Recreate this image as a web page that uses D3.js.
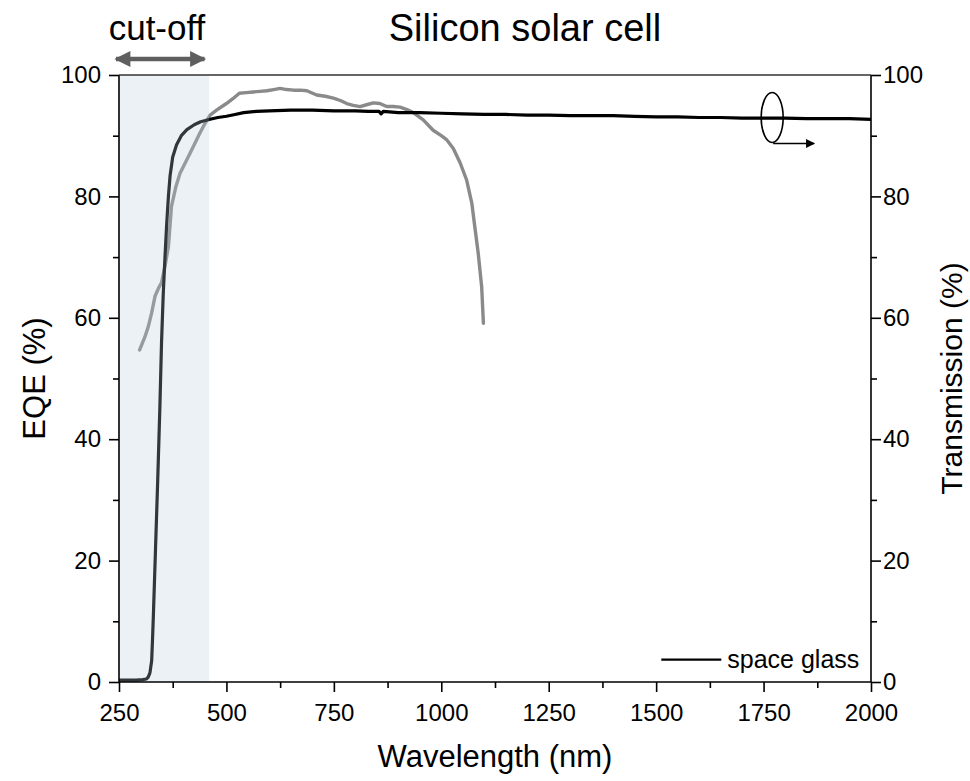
<!DOCTYPE html>
<html>
<head>
<meta charset="utf-8">
<script src="https://cdn.jsdelivr.net/npm/d3@7"></script>
<style>
  html, body { margin: 0; padding: 0; background: #fff; }
  svg { display: block; font-family: "Liberation Sans", Arial, Helvetica, sans-serif; }
</style>
</head>
<body>
<svg id="chart" width="970" height="781"></svg>
<script>
// Wavelength (nm) and EQE (%) of the silicon cell
const eqeWavelength = [298, 310, 318, 326, 334, 342, 349, 357, 365, 372, 382, 392, 411, 425, 438, 450, 462, 477, 500, 515, 530, 546, 562, 578, 594, 610, 625, 640, 656, 672, 687, 710, 730, 749, 765, 780, 795, 811, 826, 842, 857, 873, 888, 904, 920, 935, 958, 981, 1000, 1013, 1028, 1044, 1059, 1071, 1078, 1086, 1094, 1098];
const eqeValue      = [54.7, 56.8, 58.5, 60.8, 63.6, 64.9, 65.8, 68.5, 71.7, 78.3, 81.5, 83.8, 86.5, 88.5, 90.4, 92.0, 93.4, 94.2, 95.3, 96.1, 97.0, 97.1, 97.2, 97.3, 97.4, 97.6, 97.8, 97.6, 97.5, 97.5, 97.4, 96.7, 96.5, 96.2, 95.8, 95.3, 95.0, 94.8, 95.1, 95.4, 95.3, 94.8, 94.8, 94.7, 94.3, 93.8, 92.6, 90.9, 90.0, 89.3, 87.9, 85.5, 82.7, 78.9, 75.0, 70.6, 65.1, 59.1];

// Wavelength (nm) and transmission (%) of the space glass
const transWavelength = [250, 270, 290, 305, 314, 318, 322, 326, 328, 330, 335, 340, 345, 349, 353, 357, 361, 365, 369, 375, 384, 395, 408, 425, 440, 462, 480, 500, 520, 540, 570, 600, 650, 700, 750, 800, 830, 855, 860, 865, 900, 950, 1000, 1050, 1100, 1150, 1200, 1250, 1300, 1350, 1400, 1450, 1500, 1550, 1600, 1650, 1700, 1750, 1800, 1850, 1900, 1950, 2000];
const transValue      = [0.3, 0.3, 0.3, 0.4, 0.5, 0.8, 1.5, 3.5, 7.0, 11.0, 22.0, 33.0, 45.0, 56.0, 64.0, 70.0, 75.5, 80.0, 83.5, 86.5, 88.5, 90.0, 91.0, 91.8, 92.3, 92.7, 93.0, 93.2, 93.5, 93.8, 94.0, 94.1, 94.2, 94.2, 94.1, 94.1, 94.0, 94.0, 93.6, 94.0, 93.8, 93.8, 93.7, 93.6, 93.5, 93.5, 93.4, 93.4, 93.3, 93.3, 93.3, 93.2, 93.1, 93.1, 93.0, 93.0, 92.9, 92.9, 92.9, 92.8, 92.8, 92.8, 92.7];

// Axis ticks
const xMajorTicks = [250, 500, 750, 1000, 1250, 1500, 1750, 2000];
const xMinorTicks = [375, 625, 875, 1125, 1375, 1625, 1875];
const yMajorTicks = [0, 20, 40, 60, 80, 100];
const yMinorTicks = [10, 30, 50, 70, 90];

// Highlighted cut-off band (nm)
const cutoffBand = [250, 460];

const svg = d3.select("#chart");
const margin = { left: 119, right: 99, top: 75, bottom: 99 };
const W = 970, H = 781;

const x = d3.scaleLinear().domain([250, 2000]).range([margin.left, W - margin.right]);
const yL = d3.scaleLinear().domain([0, 100]).range([H - margin.bottom, margin.top]);
const yR = d3.scaleLinear().domain([0, 100]).range([H - margin.bottom, margin.top]);

const eqeData = eqeWavelength.map((w, i) => [w, eqeValue[i]]);
const transData = transWavelength.map((w, i) => [w, transValue[i]]);

// EQE curve (left axis)
svg.append("path")
  .datum(eqeData)
  .attr("fill", "none")
  .attr("stroke", "#8a8a8a")
  .attr("stroke-width", 3.4)
  .attr("stroke-linejoin", "round")
  .attr("stroke-linecap", "round")
  .attr("d", d3.line().x(d => x(d[0])).y(d => yL(d[1])));

// Transmission curve (right axis)
svg.append("path")
  .datum(transData)
  .attr("fill", "none")
  .attr("stroke", "#000")
  .attr("stroke-width", 3.2)
  .attr("stroke-linejoin", "round")
  .attr("d", d3.line().x(d => x(d[0])).y(d => yR(d[1])));

// Translucent cut-off band over the curves
svg.append("rect")
  .attr("x", x(cutoffBand[0]))
  .attr("y", yL(100))
  .attr("width", x(cutoffBand[1]) - x(cutoffBand[0]))
  .attr("height", yL(0) - yL(100))
  .attr("fill", "rgb(185,203,219)")
  .attr("fill-opacity", 0.27);

// Axes
const tickFont = 24;
const styleAxis = g => {
  g.selectAll(".domain").remove();
  g.selectAll("line").attr("stroke", "#000").attr("stroke-width", 1.6);
  g.selectAll("text").attr("font-size", tickFont).attr("fill", "#000")
    .attr("font-family", "Liberation Sans, Arial, sans-serif");
};

const gx = svg.append("g").attr("transform", `translate(0,${yL(0)})`);
gx.call(d3.axisBottom(x).tickValues(xMajorTicks).tickSize(10).tickPadding(12).tickFormat(d3.format("d")));
styleAxis(gx);
svg.append("g").attr("transform", `translate(0,${yL(0)})`)
  .call(d3.axisBottom(x).tickValues(xMinorTicks).tickSize(6).tickFormat(""))
  .call(styleAxis);

const gyl = svg.append("g").attr("transform", `translate(${x(250)},0)`);
gyl.call(d3.axisLeft(yL).tickValues(yMajorTicks).tickSize(10).tickPadding(8));
styleAxis(gyl);
svg.append("g").attr("transform", `translate(${x(250)},0)`)
  .call(d3.axisLeft(yL).tickValues(yMinorTicks).tickSize(6).tickFormat(""))
  .call(styleAxis);

const gyr = svg.append("g").attr("transform", `translate(${x(2000)},0)`);
gyr.call(d3.axisRight(yR).tickValues(yMajorTicks).tickSize(10).tickPadding(2));
styleAxis(gyr);
svg.append("g").attr("transform", `translate(${x(2000)},0)`)
  .call(d3.axisRight(yR).tickValues(yMinorTicks).tickSize(6).tickFormat(""))
  .call(styleAxis);

// Frame
const frame = svg.append("g").attr("stroke-width", 1.6).attr("fill", "none");
frame.append("line").attr("x1", x(250)).attr("x2", x(2000)).attr("y1", yL(0)).attr("y2", yL(0)).attr("stroke", "#000");
frame.append("line").attr("x1", x(250)).attr("x2", x(250)).attr("y1", yL(0)).attr("y2", yL(100)).attr("stroke", "#000");
frame.append("line").attr("x1", x(2000)).attr("x2", x(2000)).attr("y1", yL(0)).attr("y2", yL(100)).attr("stroke", "#000");
frame.append("line").attr("x1", x(250)).attr("x2", x(2000)).attr("y1", yL(100)).attr("y2", yL(100)).attr("stroke", "#333");

// Axis titles
const titleFont = 31;
svg.append("text")
  .attr("x", (x(250) + x(2000)) / 2).attr("y", 767)
  .attr("text-anchor", "middle").attr("font-size", titleFont)
  .text("Wavelength (nm)");
svg.append("text")
  .attr("transform", `translate(45,${(yL(0) + yL(100)) / 2}) rotate(-90)`)
  .attr("text-anchor", "middle").attr("font-size", titleFont)
  .text("EQE (%)");
svg.append("text")
  .attr("transform", `translate(962,${(yL(0) + yL(100)) / 2}) rotate(-90)`)
  .attr("text-anchor", "middle").attr("font-size", 30)
  .text("Transmission (%)");

// Chart title
svg.append("text")
  .attr("x", 525).attr("y", 41)
  .attr("text-anchor", "middle").attr("font-size", 38)
  .text("Silicon solar cell");

// Cut-off label with double-headed arrow
svg.append("text")
  .attr("x", 157).attr("y", 40)
  .attr("text-anchor", "middle").attr("font-size", 35)
  .text("cut-off");

const defs = svg.append("defs");
defs.append("marker")
  .attr("id", "grayHead").attr("viewBox", "0 0 10 10")
  .attr("refX", 9).attr("refY", 5)
  .attr("markerUnits", "userSpaceOnUse")
  .attr("markerWidth", 18).attr("markerHeight", 16)
  .attr("orient", "auto-start-reverse")
  .append("path").attr("d", "M0,0 L10,5 L0,10 Z").attr("fill", "#5f5f5f");
defs.append("marker")
  .attr("id", "blackHead").attr("viewBox", "0 0 10 10")
  .attr("refX", 9).attr("refY", 5)
  .attr("markerUnits", "userSpaceOnUse")
  .attr("markerWidth", 17).attr("markerHeight", 9)
  .attr("orient", "auto")
  .append("path").attr("d", "M0,0 L10,5 L0,10 Z").attr("fill", "#000");

svg.append("line")
  .attr("x1", x(243)).attr("x2", x(449))
  .attr("y1", 59).attr("y2", 59)
  .attr("stroke", "#5f5f5f").attr("stroke-width", 4.5)
  .attr("marker-start", "url(#grayHead)")
  .attr("marker-end", "url(#grayHead)");

// Ellipse marking the transmission curve, pointing to the right axis
const ex = x(1770), ey = yR(93);
svg.append("ellipse")
  .attr("cx", ex).attr("cy", ey).attr("rx", 11).attr("ry", 25)
  .attr("fill", "none").attr("stroke", "#000").attr("stroke-width", 1.6);
svg.append("line")
  .attr("x1", ex + 1).attr("x2", ex + 42)
  .attr("y1", ey + 26).attr("y2", ey + 26)
  .attr("stroke", "#000").attr("stroke-width", 1.6)
  .attr("marker-end", "url(#blackHead)");

// Legend
const lg = svg.append("g").attr("transform", `translate(${x(1512)},${yL(3.7)})`);
lg.append("line").attr("x1", 0).attr("x2", 60).attr("y1", 0).attr("y2", 0)
  .attr("stroke", "#000").attr("stroke-width", 2.2);
lg.append("text").attr("x", 66).attr("y", 0).attr("dy", "0.35em")
  .attr("font-size", 25).text("space glass");
</script>
</body>
</html>
